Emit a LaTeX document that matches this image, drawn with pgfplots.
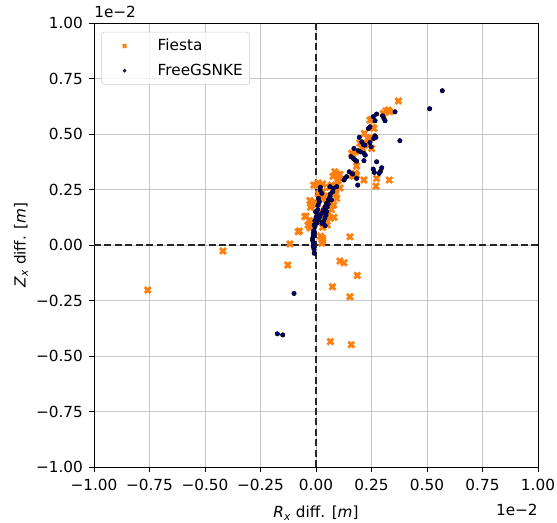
\documentclass[border=0pt]{standalone}
\usepackage{fontspec}
\setmainfont{DejaVu Sans}
\usepackage{pgfplots}
\pgfplotsset{compat=1.18}
\definecolor{morange}{HTML}{FF7F0E}
\definecolor{mnavy}{HTML}{000080}
\begin{document}
\begin{tikzpicture}
\begin{axis}[
  name=ax,
  scale only axis,
  width=319.7pt, height=319.7pt,
  font=\fontsize{11}{13}\selectfont,
  xmin=-1, xmax=1, ymin=-1, ymax=1,
  xtick={-1,-0.75,-0.5,-0.25,0,0.25,0.5,0.75,1},
  ytick={-1,-0.75,-0.5,-0.25,0,0.25,0.5,0.75,1},
  xticklabels={−1.00,−0.75,−0.50,−0.25,0.00,0.25,0.50,0.75,1.00},
  yticklabels={−1.00,−0.75,−0.50,−0.25,0.00,0.25,0.50,0.75,1.00},
  tick align=outside,
  major tick length=3.5pt,
  tick style={black, line width=0.6pt},
  xtick pos=bottom, ytick pos=left,
  xticklabel style={yshift=-2pt},
  yticklabel style={xshift=-1pt},
  grid=major,
  grid style={black!22, line width=0.6pt},
  axis line style={black, line width=0.6pt},
  xlabel={\textit{R}\textsubscript{\textit{x}} diff. [\textit{m}]},
  ylabel={\textit{Z}\textsubscript{\textit{x}} diff. [\textit{m}]},
  xlabel style={yshift=-4pt},
  ylabel style={yshift=-1pt},
  clip=false,
  legend cell align=left,
  legend image code/.code={\path[draw=none] (0cm,-1pt) rectangle (1.25cm,1pt); \draw[#1] plot coordinates {(0.48cm,0cm)};},
  legend style={at={(rel axis cs:0.016,0.98)}, anchor=north west, draw=black!20, rounded corners=2pt, fill=white, fill opacity=0.8, text opacity=1, font=\fontsize{11}{13}\selectfont, row sep=4pt, inner sep=3pt, inner xsep=3pt},
]
\draw[black!85, dash pattern=on 5pt off 2.5pt, line width=1.1pt] (axis cs:0,-1) -- (axis cs:0,1);
\draw[black!85, dash pattern=on 5pt off 2.5pt, line width=1.1pt] (axis cs:-1,0) -- (axis cs:1,0);
\addplot[forget plot, only marks, mark=x, mark size=3pt, mark options={morange, line width=2pt}] coordinates {
(0.371,0.649)(0.326,0.608)(0.315,0.604)(0.303,0.593)(0.333,0.600)(0.243,0.563)(0.250,0.565)
(0.261,0.526)(0.254,0.530)(0.218,0.503)(0.248,0.485)(0.233,0.480)(0.240,0.475)(0.228,0.458)
(0.220,0.450)(0.251,0.435)(0.209,0.435)(0.161,0.413)(0.176,0.420)(0.165,0.410)(0.183,0.356)
(0.176,0.323)(0.161,0.315)(0.183,0.315)(0.170,0.310)(0.108,0.318)(0.216,0.293)(0.273,0.300)
(0.330,0.293)(0.270,0.265)(0.198,0.459)
(0.000,0.270)(0.010,0.280)(0.030,0.275)(-0.010,0.270)(0.077,0.310)(0.085,0.330)(0.095,0.320)
(0.100,0.300)(0.095,0.270)(0.108,0.257)(0.070,0.270)(0.080,0.250)(0.060,0.260)(-0.027,0.200)
(-0.020,0.180)(-0.025,0.170)(0.030,0.240)(0.040,0.220)(0.025,0.210)(0.050,0.200)(0.060,0.190)
(0.093,0.210)(0.080,0.180)(0.070,0.160)(0.045,0.140)(0.040,0.160)(0.055,0.130)(0.081,0.125)
(0.065,0.120)(-0.050,0.128)(-0.045,0.130)(-0.030,0.110)(-0.020,0.100)(-0.036,0.090)(-0.027,0.077)
(0.045,0.100)(0.050,0.090)(0.030,0.080)(-0.075,0.063)(-0.080,0.060)(0.020,0.040)(0.030,0.020)
(0.026,0.008)(0.030,0.030)(0.153,0.037)(-0.117,0.005)(0.010,0.230)(0.020,0.150)(0.000,0.190)
(0.015,0.120)(0.090,0.230)(0.100,0.290)
(-0.758,-0.203)(-0.419,-0.027)(-0.127,-0.090)(0.108,-0.072)(0.126,-0.080)(0.186,-0.137)
(0.074,-0.188)(0.153,-0.233)(0.065,-0.435)(0.159,-0.449)
};
\addplot[forget plot, only marks, mark=*, mark size=1.6pt, mark options={draw=none, fill=mnavy}] coordinates {
(0.569,0.695)(0.512,0.614)(0.378,0.470)(0.356,0.600)(0.273,0.590)(0.258,0.578)(0.266,0.560)
(0.306,0.570)(0.311,0.560)(0.300,0.582)(0.236,0.525)(0.243,0.532)(0.266,0.492)(0.270,0.485)
(0.260,0.480)(0.195,0.485)(0.206,0.465)(0.213,0.453)(0.220,0.450)(0.243,0.462)(0.248,0.443)
(0.171,0.435)(0.191,0.425)(0.200,0.420)(0.216,0.413)(0.222,0.405)(0.158,0.398)(0.168,0.390)
(0.176,0.383)(0.183,0.378)(0.216,0.380)(0.273,0.375)(0.258,0.342)(0.263,0.327)(0.291,0.333)
(0.296,0.348)(0.285,0.323)(0.126,0.293)(0.183,0.300)
(-0.008,-0.037)(-0.009,-0.020)(-0.012,-0.008)(-0.012,0.008)(-0.015,0.020)(-0.015,0.030)
(-0.012,0.040)(-0.012,0.053)(-0.010,0.065)(-0.005,0.083)(-0.008,0.090)(0.003,0.098)
(-0.005,0.110)(0.011,0.113)(0.000,0.125)(0.005,0.140)(-0.002,0.150)(0.008,0.160)(0.010,0.180)
(0.011,0.210)(0.015,0.195)(0.018,0.248)(0.026,0.233)(0.020,0.260)
(0.033,0.105)(0.026,0.098)(0.041,0.087)(0.018,0.128)(0.026,0.143)(0.033,0.158)(0.041,0.173)
(0.048,0.188)(0.056,0.203)(0.063,0.218)(0.070,0.203)(0.048,0.150)(0.063,0.263)(0.078,0.255)
(0.093,0.263)(0.050,0.170)(0.055,0.185)(0.060,0.210)(0.065,0.230)(0.075,0.240)(0.040,0.120)
(0.045,0.135)
(0.138,0.308)(0.130,0.300)(0.150,0.330)(0.165,0.320)(0.188,0.270)
(-0.099,-0.218)(-0.174,-0.400)(-0.150,-0.405)
};
\addlegendimage{mark=x, mark size=1.8pt, mark options={morange, line width=1.3pt}, draw=none}
\addlegendentry{Fiesta}
\addlegendimage{mark=*, mark size=1.1pt, mark options={draw=none, fill=mnavy}, draw=none}
\addlegendentry{FreeGSNKE}
\node[anchor=base west, inner sep=0pt] at (rel axis cs:0,1) [yshift=4pt] {1e−2};
\node[anchor=base east, inner sep=0pt] at (rel axis cs:1,0) [yshift=-35pt] {1e−2};
\end{axis}
\pgfresetboundingbox
\path ([shift={(-67.7pt,-40.3pt)}]ax.south west) rectangle ([shift={(13.7pt,16.6pt)}]ax.north east);
\end{tikzpicture}
\end{document}
